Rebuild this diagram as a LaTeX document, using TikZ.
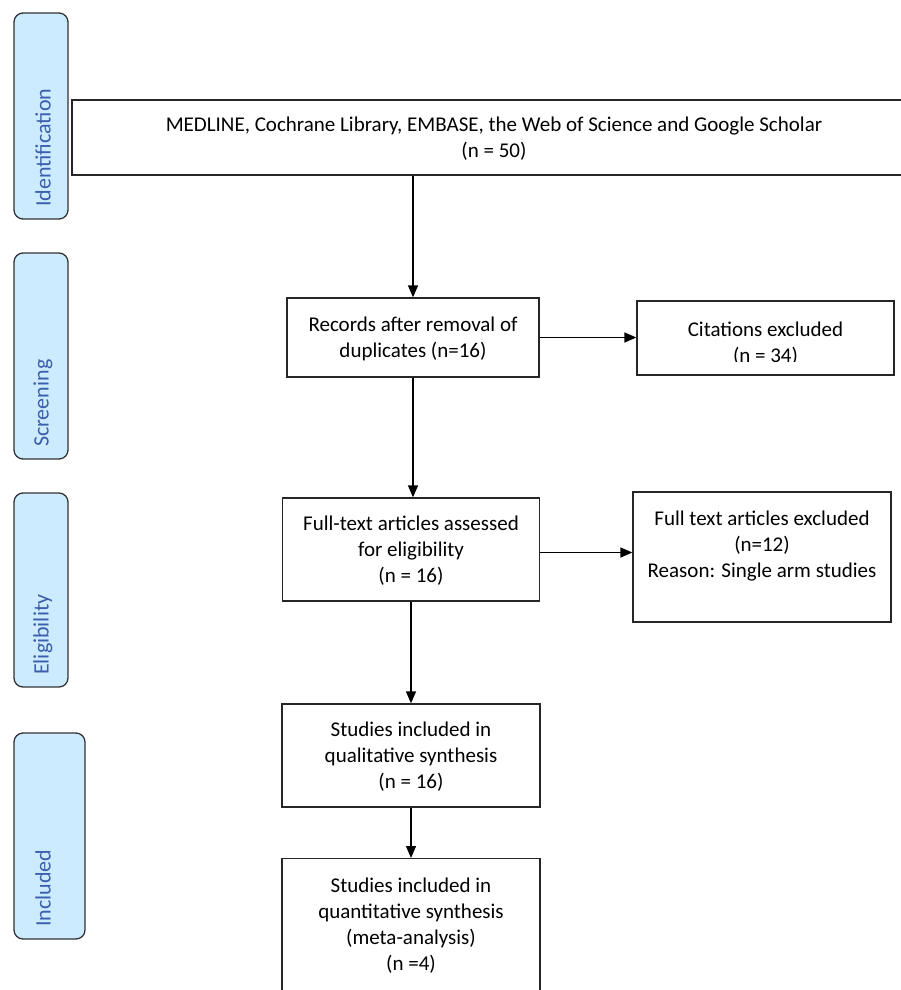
\documentclass[tikz,border=0pt]{standalone}
\usepackage{fontspec}
\setmainfont{Carlito}
\usetikzlibrary{arrows.meta}

\definecolor{bandblue}{HTML}{CCEBFF}
\definecolor{bandtext}{HTML}{3B5EAD}
\tikzset{
  box/.style={draw=black!85, line width=1.3pt, align=center, inner sep=0pt},
  pushdown/.style={text depth=-3pt},
  band/.style={draw=black!80, line width=1.3pt, fill=bandblue, rounded corners=9pt},
  bandtxt/.style={text=bandtext, rotate=90, inner sep=0pt, font=\fontsize{22}{26}\selectfont},
  link/.style={line width=1.3pt, -{Triangle[length=12pt,width=10pt]}},
}

\begin{document}
\begin{tikzpicture}[x=1pt,y=-1pt,font=\fontsize{21}{26}\selectfont]
    \useasboundingbox (0,0) rectangle (901,990);
    % stage bands on the left
    \foreach \top/\bot/\rgt/\lab in {13/219/68/Identification, 253/459/68/Screening,
                                     493/687/68/Eligibility, 733/939/85/Included}{
      \draw[band] (14,\top) rectangle (\rgt,\bot);
      \node[bandtxt, anchor=west] (b\lab) at (43,{\bot-12}) {\lab};
    }
    % main column
    \node[box, pushdown, minimum width=844pt, minimum height=75pt] (srch) at (494,137.5)
      {MEDLINE, Cochrane Library, EMBASE, the Web of Science and Google Scholar\\(n = 50)};
    \node[box, pushdown, minimum width=252pt, minimum height=79pt] (recs) at (413,337.5)
      {Records after removal of\\duplicates (n=16)};
    \node[box, pushdown, minimum width=257pt, minimum height=103pt] (full) at (411,549.5)
      {Full-text articles assessed\\for eligibility\\(n = 16)};
    \node[box, pushdown, minimum width=258pt, minimum height=103pt] (qual) at (411,755.5)
      {Studies included in\\qualitative synthesis\\(n = 16)};
    \node[box, minimum width=258pt, minimum height=134pt, anchor=north] (quant) at (411,858)
      {Studies included in\\quantitative synthesis\\(meta-analysis)\\(n =4)};
    % exclusions
    \node[box, minimum width=257pt, minimum height=74pt] (cites) at (765.5,338) {};
    \begin{scope}
      \clip (637,301) rectangle (894,361);
      \node[align=center] (citestxt) at (765.5,343.5) {Citations excluded\\(n = 34)};
    \end{scope}
    \node[box, minimum width=258pt, minimum height=130pt] (excl) at (762,557)
      {Full text articles excluded\\(n=12)\\Reason: Single arm studies\\~};
    % arrows
    \draw[link] (recs.north |- srch.south) -- (recs.north);
    \draw[link] (recs.south) -- (recs.south |- full.north);
    \draw[link] (full.south) -- (full.south |- qual.north);
    \draw[link] (qual.south) -- (quant.north);
    \draw[link] (recs.east) -- (recs.east -| cites.west);
    \draw[link] ([yshift=-3pt]full.east) -- ([yshift=-3pt]full.east -| excl.west);
\end{tikzpicture}
\end{document}
